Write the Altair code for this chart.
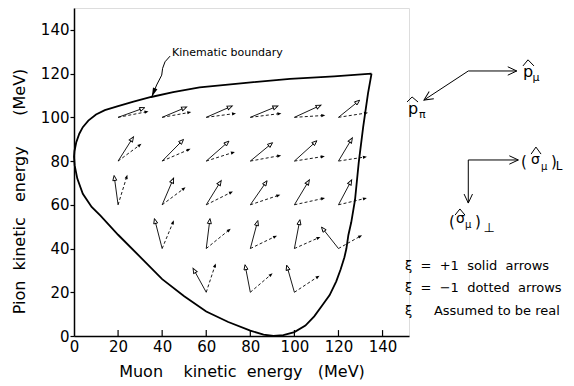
import math
import altair as alt
import pandas as pd

FONT = "DejaVu Sans"
X_MAX, Y_MAX = 152, 150
W, H = 335, 328
KX, KY = W / X_MAX, H / Y_MAX
NB = "\u00a0"

# ---------------- data ----------------
x_tick_values = [0, 20, 40, 60, 80, 100, 120, 140]
y_tick_values = [0, 20, 40, 60, 80, 100, 120, 140]
x_inner_ticks = [20, 40, 60, 80, 100, 120, 140]

boundary_x = [135, 133.4, 131.2, 129.2, 127.5, 125.8, 124.5, 123.6, 122.7, 121, 119, 116,
              113, 109, 105, 100, 95, 90.5, 86, 80, 70, 60, 50, 40, 30, 20, 12, 8, 4,
              1.5, 0.3, 0, 0.2, 1, 2.4, 4, 6.5, 10, 14, 20, 27, 35, 45, 57, 78, 98, 118, 135]
boundary_y = [120, 111, 95.5, 79.4, 62.2, 52, 46.2, 40, 36, 30.5, 25, 18.7,
              14.5, 9, 4.8, 1.8, 0.4, 0, 0.6, 2.5, 6.4, 11.2, 18.2, 26, 36.2, 46.3, 55, 59, 65,
              72, 78, 82, 84.5, 88.5, 92.5, 95.5, 98.5, 101.3, 103.3, 105.1, 107.2, 109.3,
              111.5, 113.7, 115.8, 117.6, 118.7, 120]

grid_x = [20, 40, 60, 80, 100, 120,
          20, 40, 60, 80, 100, 120,
          20, 40, 60, 80, 100, 120,
          40, 60, 80, 100, 120,
          60, 80, 100]
grid_y = [100] * 6 + [80] * 6 + [60] * 6 + [40] * 5 + [20] * 3

solid_dx = [12.1, 11.1, 11.8, 12.5, 12.1, 9.6,
            7.0, 9.7, 10.3, 10.1, 10.2, 6.3,
            -1.8, 5.2, 6.8, 7.6, 6.8, 6.0,
            -3.5, 1.7, 3.4, 2.5, -7.7,
            -6.0, -2.4, -3.5]
solid_dy = [4.4, 4.7, 5.2, 5.2, 5.6, 7.8,
            11.1, 9.9, 9.1, 8.4, 9.3, 10.6,
            13.4, 12.2, 11.1, 11.0, 11.4, 11.4,
            13.7, 13.7, 12.8, 13.2, 9.8,
            11.0, 12.6, 12.4]
dashed_dx = [13.8, 13.2, 13.5, 14.1, 14.0, 13.4,
             10.6, 12.9, 13.0, 14.0, 13.8, 12.9,
             4.2, 10.6, 12.1, 13.6, 13.9, 12.9,
             5.3, 11.1, 12.1, 11.8, 10.7,
             4.3, 10.1, 11.4]
dashed_dy = [2.7, 2.4, 1.8, 1.8, 0.9, 2.1,
             7.9, 5.6, 4.2, 2.6, 2.2, 2.0,
             13.7, 8.0, 6.1, 4.6, 3.1, 3.1,
             12.9, 9.1, 5.9, 5.3, 6.1,
             13.2, 8.7, 7.6]

# annotation strokes (data units)
ann_group = ["lead"] * 6 + ["pmu"] * 2 + ["ppi"] * 2 + ["sigL"] * 2 + ["sigP"] * 2 + \
            ["hat1"] * 3 + ["hat2"] * 3 + ["hat3"] * 3 + ["hat4"] * 3
ann_x = [43.6, 41.3, 40.2, 39.8, 37.5, 35.3,
         178.9, 200.9, 178.9, 158.8,
         178.9, 201.6, 178.9, 178.9,
         203.7, 206.0, 208.7, 151.1, 153.4, 156.1,
         207.4, 209.6, 211.9, 172.9, 175.1, 177.4]
ann_y = [128.0, 125.4, 122.4, 119.3, 114.8, 109.4,
         121.2, 121.2, 121.2, 107.9,
         80.5, 80.5, 80.5, 60.8,
         123.5, 126.3, 123.5, 107.0, 109.3, 107.0,
         83.2, 86.4, 83.2, 55.3, 58.1, 55.3]
chevron_groups = ["pmu", "ppi", "sigL", "sigP"]
filled_head_groups = ["lead"]

text_t = ["Kinematic boundary",
          f"ξ{NB}{NB}={NB}{NB}+1{NB}{NB}solid{NB}{NB}arrows",
          f"ξ{NB}{NB}={NB}{NB}−1{NB}{NB}dotted{NB}{NB}arrows",
          "ξ", "Assumed to be real",
          "p", "μ", "p", "π",
          "(", "σ", "μ", ")", "L",
          "(", "σ", "μ", ")", "⊥"]
text_x = [44.5, 150.2, 150.2, 150.2, 163.3,
          203.7, 208.0, 151.5, 156.5,
          202.8, 207.4, 211.9, 216.4, 218.6,
          170.1, 173.3, 177.4, 181.9, 185.8]
text_y = [128.2, 30.2, 20.0, 9.6, 9.6,
          118.4, 116.6, 101.5, 99.7,
          77.3, 78.6, 75.8, 77.3, 75.8,
          49.8, 51.7, 49.4, 49.8, 47.6]
text_s = [11, 13, 13, 13, 13,
          16, 11, 16, 11,
          15, 14, 10, 15, 12,
          15, 14, 10, 15, 13]

x_title = f"Muon{NB * 4}kinetic{NB * 2}energy{NB * 3}(MeV)"
y_title = f"Pion{NB * 2}kinetic{NB * 3}energy{NB * 6}(MeV)"

# ---------------- helpers ----------------
def heading(dx, dy):
    return math.degrees(math.atan2(dx * KX, dy * KY)) % 360


def shorten(x0, y0, dx, dy, px):
    L = math.hypot(dx * KX, dy * KY)
    f = max(L - px, 0) / L
    return x0 + dx * f, y0 + dy * f


def arrows(dxs, dys, back):
    lines, heads = [], []
    for x0, y0, dx, dy in zip(grid_x, grid_y, dxs, dys):
        ex, ey = shorten(x0, y0, dx, dy, back)
        lines.append(dict(x=x0, y=y0, x2=ex, y2=ey))
        heads.append(dict(x=x0 + dx, y=y0 + dy, ang=heading(dx, dy)))
    return pd.DataFrame(lines), pd.DataFrame(heads)


solid_lines, solid_heads = arrows(solid_dx, solid_dy, 4.5)
dashed_lines, dashed_heads = arrows(dashed_dx, dashed_dy, 2.0)

bdf = pd.DataFrame({"x": boundary_x, "y": boundary_y, "i": range(len(boundary_x))})
adf = pd.DataFrame({"g": ann_group, "x": ann_x, "y": ann_y})
adf["i"] = adf.groupby("g").cumcount()


def tip_rows(groups):
    rows = []
    for g in groups:
        sub = adf[adf.g == g]
        (xa, ya), (xb, yb) = sub[["x", "y"]].values[-2], sub[["x", "y"]].values[-1]
        rows.append(dict(x=xb, y=yb, ang=heading(xb - xa, yb - ya)))
    return pd.DataFrame(rows)


chev_df = tip_rows(chevron_groups)
lead_df = tip_rows(filled_head_groups)
tdf = pd.DataFrame({"t": text_t, "x": text_x, "y": text_y, "s": text_s})
itdf = pd.DataFrame({"x": x_inner_ticks, "y": [0] * len(x_inner_ticks),
                     "y2": [2.7] * len(x_inner_ticks)})

# ---------------- encodings ----------------
xs = alt.Scale(domain=[0, X_MAX], nice=False, zero=False)
ys = alt.Scale(domain=[0, Y_MAX], nice=False, zero=False)

x_axis = alt.Axis(values=x_tick_values, ticks=False, labelPadding=3, labelFlush=False,
                  labelFont=FONT, labelFontSize=15, labelColor="black",
                  domainColor="black", domainWidth=1.5, grid=False,
                  title=x_title,
                  titleFont=FONT, titleFontSize=16, titleFontWeight="normal",
                  titleColor="black", titleY=35, titleBaseline="middle")
y_axis = alt.Axis(values=y_tick_values, tickSize=4, tickColor="black", tickWidth=1.2,
                  labelPadding=1, labelFont=FONT, labelFontSize=15, labelColor="black",
                  domainColor="black", domainWidth=1.5, grid=False,
                  title=y_title,
                  titleFont=FONT, titleFontSize=16, titleFontWeight="normal",
                  titleColor="black", titleAngle=270, titleAlign="center",
                  titleBaseline="middle", titleX=-55, titleY=183)

X = alt.X("x:Q", scale=xs, axis=x_axis)
Y = alt.Y("y:Q", scale=ys, axis=y_axis)

SOLID_HEAD = "M0,0L-0.8,2L0.8,2Z"
DASH_HEAD = "M0,0L-0.8,2L0.8,2Z"
CHEVRON = "M-1.4,3L0,0L1.4,3"
LEAD_HEAD = "M0,0L-0.8,3L0.8,3Z"

boundary = alt.Chart(bdf).mark_line(color="black", strokeWidth=1.8).encode(
    x=X, y=Y, order="i:Q")
inner_ticks = alt.Chart(itdf).mark_rule(color="black", strokeWidth=1.2).encode(
    x=X, y=Y, y2="y2:Q")
s_lines = alt.Chart(solid_lines).mark_rule(color="black", strokeWidth=0.9).encode(
    x=X, y=Y, x2="x2:Q", y2="y2:Q")
s_heads = alt.Chart(solid_heads).mark_point(
    shape=SOLID_HEAD, filled=False, size=25, color="black", strokeWidth=0.9, opacity=1
).encode(x=X, y=Y, angle=alt.Angle("ang:Q", scale=None))
d_lines = alt.Chart(dashed_lines).mark_rule(
    color="black", strokeWidth=0.9, strokeDash=[3, 2.2]).encode(
    x=X, y=Y, x2="x2:Q", y2="y2:Q")
d_heads = alt.Chart(dashed_heads).mark_point(
    shape=DASH_HEAD, filled=True, size=16, color="black", opacity=1
).encode(x=X, y=Y, angle=alt.Angle("ang:Q", scale=None))
ann_lines = alt.Chart(adf).mark_line(color="black", strokeWidth=1).encode(
    x=X, y=Y, detail="g:N", order="i:Q")
chev = alt.Chart(chev_df).mark_point(
    shape=CHEVRON, filled=False, size=36, color="black", strokeWidth=1, opacity=1
).encode(x=X, y=Y, angle=alt.Angle("ang:Q", scale=None))
lead = alt.Chart(lead_df).mark_point(
    shape=LEAD_HEAD, filled=True, size=36, color="black", opacity=1
).encode(x=X, y=Y, angle=alt.Angle("ang:Q", scale=None))
texts = alt.Chart(tdf).mark_text(
    align="left", baseline="alphabetic", font=FONT, color="black"
).encode(x=X, y=Y, text="t:N", size=alt.Size("s:Q", scale=None))

chart = alt.layer(
    boundary, inner_ticks, s_lines, s_heads, d_lines, d_heads, ann_lines, chev, lead, texts
).properties(
    width=W, height=H,
    autosize=alt.AutoSizeParams(type="none"),
    padding={"left": 66, "top": 0, "right": 155, "bottom": 48},
).configure_view(stroke=None).configure(background="white")

chart.save("out.html", embed_options={"renderer": "svg", "actions": False})
